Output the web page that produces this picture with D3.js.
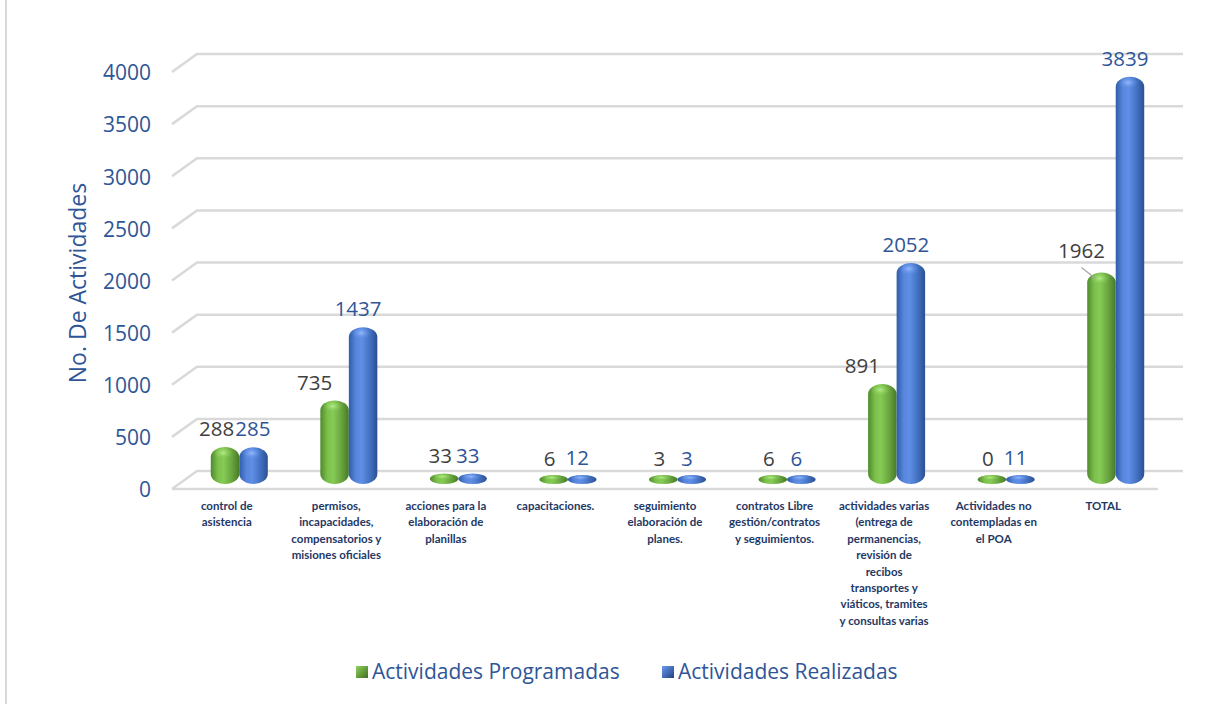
<!DOCTYPE html>
<html>
<head>
<meta charset="utf-8">
<script src="https://cdn.jsdelivr.net/npm/d3@7"></script>
<style>
  body { margin: 0; background: #fff; }
  svg { display: block; }
</style>
</head>
<body>
<div id="chart"></div>
<script>
// chart data
var categories = [
  "control de\nasistencia",
  "permisos,\nincapacidades,\ncompensatorios y\nmisiones oficiales",
  "acciones para la\nelaboración de\nplanillas",
  "capacitaciones.",
  "seguimiento\nelaboración de\nplanes.",
  "contratos Libre\ngestión/contratos\ny seguimientos.",
  "actividades varias\n(entrega de\npermanencias,\nrevisión de\nrecibos\ntransportes y\nviáticos, tramites\ny consultas varias",
  "Actividades no\ncontempladas en\nel POA",
  "TOTAL"
];
var programadas = [288, 735, 33, 6, 3, 6, 891, 0, 1962];
var realizadas = [285, 1437, 33, 12, 3, 6, 2052, 11, 3839];
var seriesNames = ["Actividades Programadas", "Actividades Realizadas"];
var yTicks = [0, 500, 1000, 1500, 2000, 2500, 3000, 3500, 4000];

var width = 1230, height = 704;
// 3d depth of the floor
var depth = { dx: 25, dy: -18 };
var front = { left: 172, right: 1158 };

var svg = d3.select("#chart").append("svg")
  .attr("width", width)
  .attr("height", height);

var defs = svg.append("defs");

function cylGradient(id, stops) {
  var g = defs.append("linearGradient").attr("id", id)
    .attr("x1", "0%").attr("x2", "100%").attr("y1", "0%").attr("y2", "0%");
  stops.forEach(function (s) {
    g.append("stop").attr("offset", s[0]).attr("stop-color", s[1]);
  });
}
cylGradient("gGreen", [["0%", "#4f8a2c"], ["25%", "#7cc04c"], ["45%", "#86cb55"], ["75%", "#67a33e"], ["100%", "#477a27"]]);
cylGradient("gBlue", [["0%", "#2f5cab"], ["25%", "#5786dc"], ["45%", "#5f8fe6"], ["75%", "#4270c0"], ["100%", "#2b4f92"]]);

function capGradient(id, light, base) {
  var g = defs.append("radialGradient").attr("id", id)
    .attr("cx", "45%").attr("cy", "40%").attr("r", "55%");
  g.append("stop").attr("offset", "0%").attr("stop-color", light);
  g.append("stop").attr("offset", "100%").attr("stop-color", base).attr("stop-opacity", 0);
}
capGradient("cGreen", "#b4ec86", "#7cc04c");
capGradient("cBlue", "#93b9ff", "#5786dc");

function legendGradient(id, c1, c2) {
  var g = defs.append("linearGradient").attr("id", id)
    .attr("x1", "0%").attr("x2", "100%").attr("y1", "0%").attr("y2", "100%");
  g.append("stop").attr("offset", "0%").attr("stop-color", c1);
  g.append("stop").attr("offset", "100%").attr("stop-color", c2);
}
legendGradient("lGreen", "#8fd35c", "#3f6e22");
legendGradient("lBlue", "#6a9af0", "#22427f");

// frame line on the left
svg.append("line")
  .attr("x1", 6).attr("x2", 6).attr("y1", 0).attr("y2", height)
  .attr("stroke", "#d9d9d9").attr("stroke-width", 2);

// scales: y is measured on the back wall
var yBack = d3.scaleLinear().domain([0, 4000]).range([471, 54]);
function yMid(v) { return yBack(v) - depth.dy / 2; }
function yFront(v) { return yBack(v) - depth.dy; }

var x = d3.scaleBand().domain(d3.range(categories.length))
  .range([front.left, front.right]).paddingInner(0).paddingOuter(0);

// gridlines with the left wall diagonal
var grid = svg.append("g").attr("class", "grid");
yTicks.forEach(function (t) {
  var yb = yBack(t), yf = yFront(t);
  grid.append("path")
    .attr("d", "M" + front.left + "," + yf + "L" + (front.left + depth.dx) + "," + yb +
      "L" + (front.right + depth.dx) + "," + yb)
    .attr("fill", "none").attr("stroke", "#d9d9d9").attr("stroke-width", 2.5);
});
// floor front edge
grid.append("line")
  .attr("x1", front.left).attr("x2", front.right)
  .attr("y1", yFront(0)).attr("y2", yFront(0))
  .attr("stroke", "#d9d9d9").attr("stroke-width", 2.5);

// y tick labels
svg.append("g").selectAll("text").data(yTicks).enter().append("text")
  .attr("x", 151)
  .attr("y", function (d) { return yFront(d) + 1; })
  .attr("dy", "0.35em")
  .attr("text-anchor", "end")
  .attr("font-family", "Open Sans")
  .attr("font-size", 21)
  .attr("fill", "#2f5597")
  .text(function (d) { return d; });

// y axis title
svg.append("text")
  .attr("transform", "translate(78,283) rotate(-90)")
  .attr("text-anchor", "middle")
  .attr("dy", "0.35em")
  .attr("font-family", "Open Sans")
  .attr("font-size", 23)
  .attr("fill", "#2f5597")
  .text("No. De Actividades");

// cylinders
var barW = 28.5;
var bottomY = yMid(0) + 4;
var bars = svg.append("g").attr("class", "bars");

function drawCylinder(cx, v, fill, cap) {
  var top = Math.min(yMid(v) - 3, bottomY - 9);
  var h = bottomY - top;
  var ry = Math.min(10, h / 2);
  var g = bars.append("g");
  g.append("rect")
    .attr("x", cx - barW / 2).attr("y", top)
    .attr("width", barW).attr("height", h)
    .attr("rx", barW / 2).attr("ry", ry)
    .attr("fill", "url(#" + fill + ")");
  g.append("ellipse")
    .attr("cx", cx - 1).attr("cy", top + ry * 0.7)
    .attr("rx", barW * 0.33).attr("ry", Math.max(ry * 0.6, 2))
    .attr("fill", "url(#" + cap + ")");
}

var labels = svg.append("g").attr("class", "values");
categories.forEach(function (c, i) {
  var gx = x(i) + x.bandwidth() / 2 + depth.dx / 2;
  var gxG = gx - barW / 2, gxB = gx + barW / 2;
  drawCylinder(gxG, programadas[i], "gGreen", "cGreen");
  drawCylinder(gxB, realizadas[i], "gBlue", "cBlue");

  var pv = programadas[i], rv = realizadas[i];
  var shifted = pv > 500 && rv > pv * 1.5;
  var lxG = shifted ? gxG - 20 : gxG - 4;
  var lyG = yMid(pv) - 21 - (pv > 1500 ? 4 : 0);
  var lxB = gxB - 5, lyB = yMid(rv) - 21;
  var tG = labels.append("text")
    .attr("x", lxG).attr("y", lyG).attr("dy", "0.35em")
    .attr("text-anchor", "middle")
    .attr("font-family", "Open Sans").attr("font-size", 20.5)
    .attr("fill", "#404040")
    .text(pv);
  var tB = labels.append("text")
    .attr("x", lxB).attr("y", lyB).attr("dy", "0.35em")
    .attr("text-anchor", "middle")
    .attr("font-family", "Open Sans").attr("font-size", 20.5)
    .attr("fill", "#2f5597")
    .text(rv);
  // push the two labels apart when they sit side by side
  if (Math.abs(lyG - lyB) < 20) {
    var wG = tG.node().getComputedTextLength(), wB = tB.node().getComputedTextLength();
    var gap = (lxB - wB / 2) - (lxG + wG / 2);
    if (gap < 1) {
      var push = (1 - gap) / 2;
      tG.attr("x", lxG - push);
      tB.attr("x", lxB + push);
    }
  }
  if (shifted && pv > 1500) {
    labels.append("line")
      .attr("x1", lxG).attr("y1", lyG + 17)
      .attr("x2", gxG - 6).attr("y2", yMid(pv) + 3)
      .attr("stroke", "#a6a6a6").attr("stroke-width", 1.2);
  }
});

// category labels
var cat = svg.append("g").attr("class", "categories");
categories.forEach(function (c, i) {
  var t = cat.append("text")
    .attr("x", x(i) + x.bandwidth() / 2)
    .attr("y", 510)
    .attr("text-anchor", "middle")
    .attr("font-family", "Lato").attr("font-weight", "bold")
    .attr("font-size", 11.5)
    .attr("fill", "#1f3864");
  c.split("\n").forEach(function (line, j) {
    t.append("tspan")
      .attr("x", x(i) + x.bandwidth() / 2)
      .attr("y", 510 + j * 16.4)
      .text(line);
  });
});

// legend
var legend = svg.append("g").attr("class", "legend");
var legendItems = [
  { name: seriesNames[0], fill: "lGreen", x: 356 },
  { name: seriesNames[1], fill: "lBlue", x: 662 }
];
legendItems.forEach(function (d) {
  legend.append("rect")
    .attr("x", d.x).attr("y", 666)
    .attr("width", 12).attr("height", 12)
    .attr("fill", "url(#" + d.fill + ")");
  legend.append("text")
    .attr("x", d.x + 16).attr("y", 672).attr("dy", "0.35em")
    .attr("font-family", "Open Sans").attr("font-size", 21)
    .attr("fill", "#2f5597")
    .text(d.name);
});
</script>
</body>
</html>
